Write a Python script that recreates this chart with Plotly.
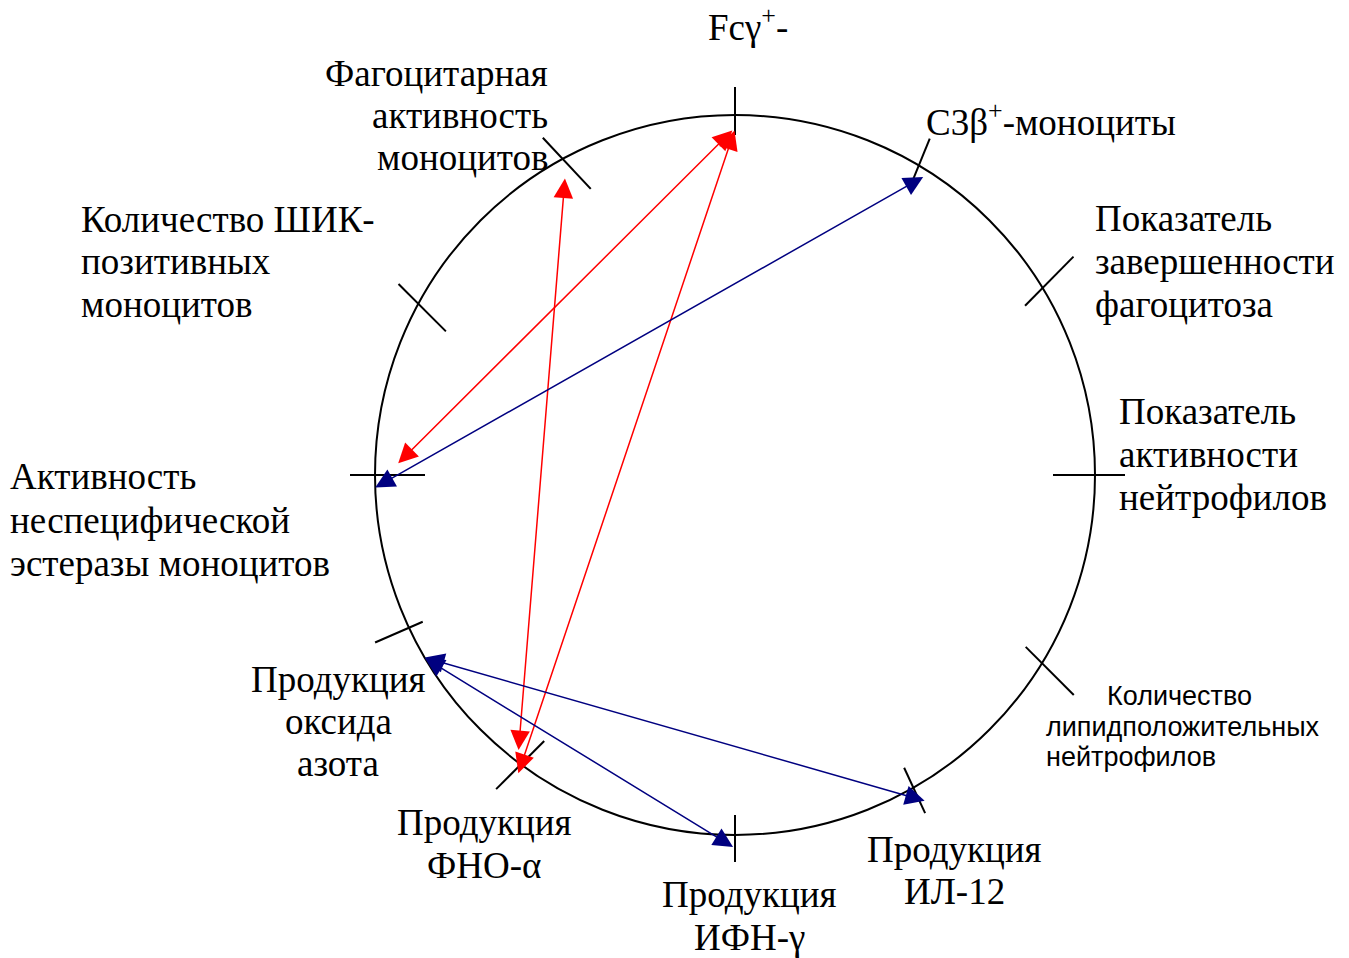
import math
import plotly.graph_objects as go

# ---------------- data ----------------
# nodes on the circle (compass angle, degrees clockwise from top)
node_names = [
    "Fcγ+", "C3β+-моноциты", "Показатель завершенности фагоцитоза",
    "Показатель активности нейтрофилов", "Количество липидположительных нейтрофилов",
    "Продукция ИЛ-12", "Продукция ИФН-γ", "Продукция ФНО-α",
    "Продукция оксида азота", "Активность неспецифической эстеразы моноцитов",
    "Количество ШИК-позитивных моноцитов", "Фагоцитарная активность моноцитов",
]
node_angles = [0, 30.7, 58.7, 90, 121.5, 150.3, 180, 216.5, 244.9, 270, 298.4, 331.4]

label_lines = [
    ["Fcγ<sup>+</sup>-"],
    ["C3β<sup>+</sup>-моноциты"],
    ["Показатель", "завершенности", "фагоцитоза"],
    ["Показатель", "активности", "нейтрофилов"],
    ["Количество", "липидположительных", "нейтрофилов"],
    ["Продукция", "ИЛ-12"],
    ["Продукция", "ИФН-γ"],
    ["Продукция", "ФНО-α"],
    ["Продукция", "оксида", "азота"],
    ["Активность", "неспецифической", "эстеразы моноцитов"],
    ["Количество ШИК-", "позитивных", "моноцитов"],
    ["Фагоцитарная", "активность", "моноцитов"],
]

# links (double-headed arrows): endpoint angle / radius on each side, colour group
link_a_angle = [330.3, 359.8, 0.0, 32.4, 239.7, 239.7]
link_a_rad = [343, 346, 346, 354, 361, 361]
link_b_angle = [218.2, 272.0, 216.0, 268.0, 149.8, 180.3]
link_b_rad = [350, 337, 368.6, 360, 377, 372]
link_kind = ["pos", "pos", "pos", "neg", "neg", "neg"]

# ---------------- layout / style ----------------
W, H = 1349, 958
OFF = 8  # default page body margin
CX, CY, R = 735, 475, 360
SERIF = "Liberation Serif"
SANS = "Liberation Sans"
FS_SERIF = 37
FS_SANS = 27
TEXT_DY = 2
kind_color = {"pos": "#FF0000", "neg": "#000080"}

# tick marks per node: direction (screen degrees, y down) and extents along it
tick_dir = [-90, -67.8, -45.4, 0, 45, 65.2, 90, 135, 156.4, 180, 45, 46.8]
tick_t0 = [-20, -22, -25, -42, -23, -22, -20, -33, -15, -50, -28, -29]
tick_t1 = [28, 29, 44, 30, 45, 28, 27, 35, 37, 25, 39, 41]

# label placement: anchor x, baselines, alignment, font
label_x = [748, 926, 1095, 1119, [1107, 1046, 1046], 954, 749, 484, 338, 10, 81, 548]
label_base = [
    [38], [133], [229, 272, 315], [422, 465, 508], [703, 734, 764],
    [860, 902], [905, 948], [833, 876], [690, 732, 774],
    [487, 531, 574], [230, 272, 315], [84, 126, 168],
]
label_align = ["center", "left", "left", "left", "left", "center", "center",
               "center", "center", "left", "left", "right"]
label_font = [SERIF] * 4 + [SANS] + [SERIF] * 7


def polar(angle, r):
    a = math.radians(angle)
    return CX + r * math.sin(a), CY - r * math.cos(a)


fig = go.Figure()
fig.add_trace(go.Scatter(x=[OFF, W], y=[OFF, H], mode="markers",
                         marker=dict(opacity=0), hoverinfo="skip", showlegend=False))

shapes = [dict(type="circle", xref="x", yref="y", x0=CX - R, x1=CX + R,
               y0=CY - R, y1=CY + R, line=dict(color="black", width=2))]

for ang, d, t0, t1 in zip(node_angles, tick_dir, tick_t0, tick_t1):
    px, py = polar(ang, R)
    dx, dy = math.cos(math.radians(d)), math.sin(math.radians(d))
    shapes.append(dict(type="line", xref="x", yref="y",
                       x0=px + t0 * dx, y0=py + t0 * dy,
                       x1=px + t1 * dx, y1=py + t1 * dy,
                       line=dict(color="black", width=2)))

annotations = []
for aa, ar, ba, br, k in zip(link_a_angle, link_a_rad, link_b_angle, link_b_rad, link_kind):
    x0, y0 = polar(aa, ar)
    x1, y1 = polar(ba, br)
    annotations.append(dict(
        x=x1, y=y1, ax=x0, ay=y0, xref="x", yref="y", axref="x", ayref="y",
        text="", showarrow=True, arrowside="end+start",
        arrowhead=2, startarrowhead=2, arrowsize=2.6, startarrowsize=2.6,
        arrowwidth=1.5, arrowcolor=kind_color[k], standoff=0, startstandoff=0))

for lines, lx, bases, al, fnt in zip(label_lines, label_x, label_base, label_align, label_font):
    fs = FS_SANS if fnt == SANS else FS_SERIF
    desc = 0.212 if fnt == SANS else 0.216
    xs = lx if isinstance(lx, list) else [lx] * len(lines)
    for txt, x, b in zip(lines, xs, bases):
        annotations.append(dict(
            x=x, y=b + TEXT_DY + desc * fs, xref="x", yref="y", text=txt, showarrow=False,
            xanchor=al, yanchor="bottom", align=al, borderpad=0, borderwidth=0,
            font=dict(family=fnt, size=fs, color="black")))

fig.update_layout(
    width=W - OFF, height=H - OFF, margin=dict(l=0, r=0, t=0, b=0),
    paper_bgcolor="white", plot_bgcolor="white", showlegend=False,
    xaxis=dict(range=[OFF, W], visible=False, fixedrange=True),
    yaxis=dict(range=[H, OFF], visible=False, fixedrange=True),
    shapes=shapes, annotations=annotations,
)

fig.write_html("out.html")
